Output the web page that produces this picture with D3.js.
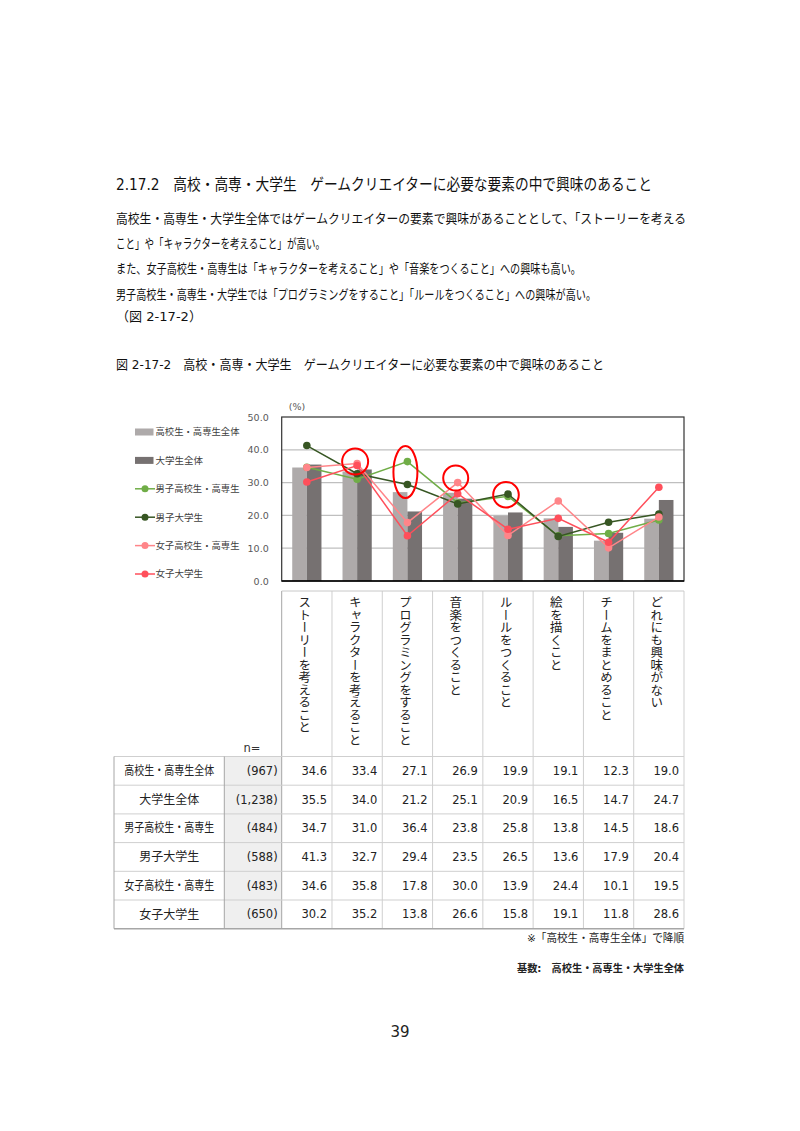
<!DOCTYPE html>
<html>
<head>
<meta charset="utf-8">
<script src="https://cdn.jsdelivr.net/npm/d3@7"></script>
<style>
  body { margin: 0; background: #fff; }
  text { font-family: "DejaVu Sans", "Noto Sans CJK JP", sans-serif; }
</style>
</head>
<body>
<svg id="page"></svg>
<script>
const categories = ["ストーリーを考えること", "キャラクターを考えること", "プログラミングをすること", "音楽をつくること", "ルールをつくること", "絵を描くこと", "チームをまとめること", "どれにも興味がない"];
const groups = ["高校生・高専生全体", "大学生全体", "男子高校生・高専生", "男子大学生", "女子高校生・高専生", "女子大学生"];
const sampleSizes = ["(967)", "(1,238)", "(484)", "(588)", "(483)", "(650)"];

const hsAll = [34.6, 33.4, 27.1, 26.9, 19.9, 19.1, 12.3, 19.0];
const univAll = [35.5, 34.0, 21.2, 25.1, 20.9, 16.5, 14.7, 24.7];
const maleHs = [34.7, 31.0, 36.4, 23.8, 25.8, 13.8, 14.5, 18.6];
const maleUniv = [41.3, 32.7, 29.4, 23.5, 26.5, 13.6, 17.9, 20.4];
const femaleHs = [34.6, 35.8, 17.8, 30.0, 13.9, 24.4, 10.1, 19.5];
const femaleUniv = [30.2, 35.2, 13.8, 26.6, 15.8, 19.1, 11.8, 28.6];

const yTicks = [0, 10, 20, 30, 40, 50];

// red marks drawn over the chart: category index and value they circle
const highlightCats = [1, 2, 3, 4];
const highlightValues = [36.4, 33.2, 31.4, 26.3];

const width = 800, height = 1131;
const svg = d3.select("#page").attr("width", width).attr("height", height);
svg.append("rect").attr("width", width).attr("height", height).attr("fill", "#fff");

// squeeze a text element if it runs wider than maxW
function fit(sel, maxW) {
  sel.each(function () {
    if (this.getComputedTextLength() > maxW) {
      d3.select(this).attr("textLength", maxW).attr("lengthAdjust", "spacingAndGlyphs");
    }
  });
}

// ---- heading and body text
const textLines = [
  { t: "2.17.2　高校・高専・大学生　ゲームクリエイターに必要な要素の中で興味のあること", y: 190, size: 15.5, w: 536 },
  { t: "高校生・高専生・大学生全体ではゲームクリエイターの要素で興味があることとして、「ストーリーを考える", y: 223, size: 13, w: 570 },
  { t: "こと」や「キャラクターを考えること」が高い。", y: 248, size: 13, w: 209 },
  { t: "また、女子高校生・高専生は「キャラクターを考えること」や「音楽をつくること」への興味も高い。", y: 273, size: 13, w: 465 },
  { t: "男子高校生・高専生・大学生では「プログラミングをすること」「ルールをつくること」への興味が高い。", y: 299, size: 13, w: 480 },
  { t: "（図 2-17-2）", y: 321, size: 13, w: 86 },
  { t: "図 2-17-2　高校・高専・大学生　ゲームクリエイターに必要な要素の中で興味のあること", y: 369, size: 13, w: 488 }
];
svg.append("g").selectAll("text")
  .data(textLines)
  .enter()
  .append("text")
  .attr("x", 116)
  .attr("y", d => d.y)
  .attr("font-size", d => d.size)
  .attr("fill", "#111")
  .attr("textLength", d => d.w)
  .attr("lengthAdjust", "spacingAndGlyphs")
  .text(d => d.t);

// ---- chart
const plotLeft = 281.7, plotRight = 684, plotTop = 417, plotBottom = 581;

const x0 = d3.scaleBand().domain(d3.range(categories.length)).range([plotLeft, plotRight]);
const x1 = d3.scaleBand().domain([0, 1]).range([0, x0.bandwidth()]).paddingOuter(0.72);
const y = d3.scaleLinear().domain([0, 50]).range([plotBottom, plotTop]);

const chart = svg.append("g");

// gridlines
chart.append("g").selectAll("line")
  .data(yTicks.filter(v => v > 0 && v < 50))
  .enter()
  .append("line")
  .attr("x1", plotLeft).attr("x2", plotRight)
  .attr("y1", d => y(d)).attr("y2", d => y(d))
  .attr("stroke", "#bfbfbf")
  .attr("stroke-width", 1.3);

// bars
const barSeries = [
  { values: hsAll, color: "#aeaaaa" },
  { values: univAll, color: "#767171" }
];
barSeries.forEach((s, si) => {
  chart.append("g").selectAll("rect")
    .data(s.values)
    .enter()
    .append("rect")
    .attr("x", (d, i) => x0(i) + x1(si))
    .attr("width", x1.bandwidth())
    .attr("y", d => y(d))
    .attr("height", d => y(0) - y(d))
    .attr("fill", s.color);
});

// plot border
chart.append("rect")
  .attr("x", plotLeft).attr("y", plotTop)
  .attr("width", plotRight - plotLeft).attr("height", plotBottom - plotTop)
  .attr("fill", "none")
  .attr("stroke", "#333")
  .attr("stroke-width", 1.2);
chart.append("line")
  .attr("x1", plotLeft).attr("x2", plotRight)
  .attr("y1", plotBottom).attr("y2", plotBottom)
  .attr("stroke", "#000").attr("stroke-width", 1.5);

// y axis labels
const yAxis = d3.axisLeft(y).tickValues(yTicks).tickFormat(d3.format(".1f")).tickSize(0).tickPadding(13);
const yAxisG = chart.append("g").attr("transform", `translate(${plotLeft},0)`).call(yAxis);
yAxisG.select(".domain").remove();
yAxisG.selectAll("text").attr("font-size", 9.5).attr("fill", "#595959")
  .style("font-family", "'DejaVu Sans', sans-serif");

chart.append("text")
  .attr("x", 297).attr("y", 410)
  .attr("text-anchor", "middle")
  .attr("font-size", 9.5)
  .attr("fill", "#595959")
  .text("(%)");

// lines
const lineSeries = [
  { name: groups[2], values: maleHs, color: "#70ad47" },
  { name: groups[3], values: maleUniv, color: "#375623" },
  { name: groups[4], values: femaleHs, color: "#ff8589" },
  { name: groups[5], values: femaleUniv, color: "#ff4f5b" }
];
const cx = i => x0(i) + x0.bandwidth() / 2;
const line = d3.line().x((d, i) => cx(i)).y(d => y(d));

lineSeries.forEach(s => {
  const g = chart.append("g");
  g.append("path")
    .datum(s.values)
    .attr("d", line)
    .attr("fill", "none")
    .attr("stroke", s.color)
    .attr("stroke-width", 1.5);
  g.selectAll("circle")
    .data(s.values)
    .enter()
    .append("circle")
    .attr("cx", (d, i) => cx(i))
    .attr("cy", d => y(d))
    .attr("r", 3.8)
    .attr("fill", s.color);
});

// red highlight marks
const highlightSize = [[13, 13], [12, 26], [12.5, 12.5], [12.8, 12.8]];
chart.append("g").selectAll("ellipse")
  .data(highlightCats)
  .enter()
  .append("ellipse")
  .attr("cx", d => cx(d) - 2)
  .attr("cy", (d, i) => y(highlightValues[i]))
  .attr("rx", (d, i) => highlightSize[i][0])
  .attr("ry", (d, i) => highlightSize[i][1])
  .attr("fill", "none")
  .attr("stroke", "#ff0000")
  .attr("stroke-width", 2);

// legend
const legendItems = [
  { name: groups[0], color: "#aeaaaa", type: "bar" },
  { name: groups[1], color: "#767171", type: "bar" },
  ...lineSeries.map(s => ({ name: s.name, color: s.color, type: "line" }))
];
const legend = svg.append("g").attr("transform", "translate(135,432)");
legend.selectAll("g")
  .data(legendItems)
  .enter()
  .append("g")
  .attr("transform", (d, i) => `translate(0, ${i * 28.4})`)
  .each(function (d) {
    const g = d3.select(this);
    if (d.type === "bar") {
      g.append("rect").attr("x", 0).attr("y", -3.5).attr("width", 18.5).attr("height", 7).attr("fill", d.color);
    } else {
      g.append("line").attr("x1", 0).attr("x2", 20).attr("stroke", d.color).attr("stroke-width", 1.5);
      g.append("circle").attr("cx", 10).attr("r", 3.5).attr("fill", d.color);
    }
    g.append("text")
      .attr("x", 20.5)
      .attr("dy", "0.35em")
      .attr("font-size", 9.5)
      .attr("fill", "#404040")
      .text(d.name)
      .call(fit, 84);
  });

// ---- table
const tableLeft = 114, nLeft = 224.3, headTop = 591, rowTop = 756.5, rowH = 28.7;
const rowsData = [hsAll, univAll, maleHs, maleUniv, femaleHs, femaleUniv];
const tableBottom = rowTop + rowH * rowsData.length;
const table = svg.append("g");

// n column shading
table.append("rect")
  .attr("x", nLeft).attr("y", rowTop)
  .attr("width", plotLeft - nLeft).attr("height", tableBottom - rowTop)
  .attr("fill", "#efefef");

// header verticals
const colEdges = d3.range(categories.length + 1).map(i => i < categories.length ? x0(i) : plotRight);
table.append("g").selectAll("line")
  .data(colEdges)
  .enter()
  .append("line")
  .attr("x1", d => d).attr("x2", d => d)
  .attr("y1", headTop).attr("y2", tableBottom)
  .attr("stroke", (d, i) => i === 0 ? "#a6a6a6" : "#cfcfcf")
  .attr("stroke-width", 1);
table.append("line")
  .attr("x1", plotLeft).attr("x2", plotRight)
  .attr("y1", headTop).attr("y2", headTop)
  .attr("stroke", "#c8c8c8");

// row lines
table.append("g").selectAll("line")
  .data(d3.range(rowsData.length + 1))
  .enter()
  .append("line")
  .attr("x1", tableLeft).attr("x2", plotRight)
  .attr("y1", i => rowTop + i * rowH).attr("y2", i => rowTop + i * rowH)
  .attr("stroke", i => i === rowsData.length ? "#a6a6a6" : "#cfcfcf")
  .attr("stroke-width", i => i === rowsData.length ? 1.5 : 1);
[tableLeft, nLeft].forEach(xv => {
  table.append("line")
    .attr("x1", xv).attr("x2", xv)
    .attr("y1", rowTop).attr("y2", tableBottom)
    .attr("stroke", "#a6a6a6");
});

// vertical category headers
table.append("g").selectAll("text")
  .data(categories)
  .enter()
  .append("text")
  .attr("x", (d, i) => cx(i) - 2)
  .attr("y", headTop + 5)
  .attr("font-size", 12.5)
  .attr("fill", "#222")
  .style("writing-mode", "vertical-rl")
  .style("font-family", "'Noto Sans CJK JP', sans-serif")
  .text(d => d);

table.append("text")
  .attr("x", 252).attr("y", 752)
  .attr("text-anchor", "middle")
  .attr("font-size", 11.5)
  .attr("fill", "#333")
  .text("n=");

// row labels, n, values
rowsData.forEach((vals, r) => {
  const cy = rowTop + r * rowH + rowH / 2;
  table.append("text")
    .attr("x", (tableLeft + nLeft) / 2).attr("y", cy).attr("dy", "0.35em")
    .attr("text-anchor", "middle").attr("font-size", 12).attr("fill", "#222")
    .text(groups[r])
    .call(fit, 90);
  table.append("text")
    .attr("x", plotLeft - 4).attr("y", cy).attr("dy", "0.35em")
    .attr("text-anchor", "end").attr("font-size", 11.5).attr("fill", "#222")
    .text(sampleSizes[r]);
  table.append("g").selectAll("text")
    .data(vals)
    .enter()
    .append("text")
    .attr("x", (d, i) => x0(i) + x0.bandwidth() - 5)
    .attr("y", cy).attr("dy", "0.35em")
    .attr("text-anchor", "end").attr("font-size", 11.5).attr("fill", "#222")
    .text(d => d.toFixed(1));
});

// notes
svg.append("text")
  .attr("x", 684).attr("y", 942)
  .attr("text-anchor", "end").attr("font-size", 11).attr("fill", "#222")
  .text("※「高校生・高専生全体」で降順")
  .call(fit, 157);
svg.append("text")
  .attr("x", 684).attr("y", 972)
  .attr("text-anchor", "end").attr("font-size", 10.5).attr("font-weight", "bold").attr("fill", "#222")
  .text("基数:　高校生・高専生・大学生全体")
  .call(fit, 167);
svg.append("text")
  .attr("x", 400).attr("y", 1037)
  .attr("text-anchor", "middle").attr("font-size", 15).attr("fill", "#222")
  .text("39");
</script>
</body>
</html>
